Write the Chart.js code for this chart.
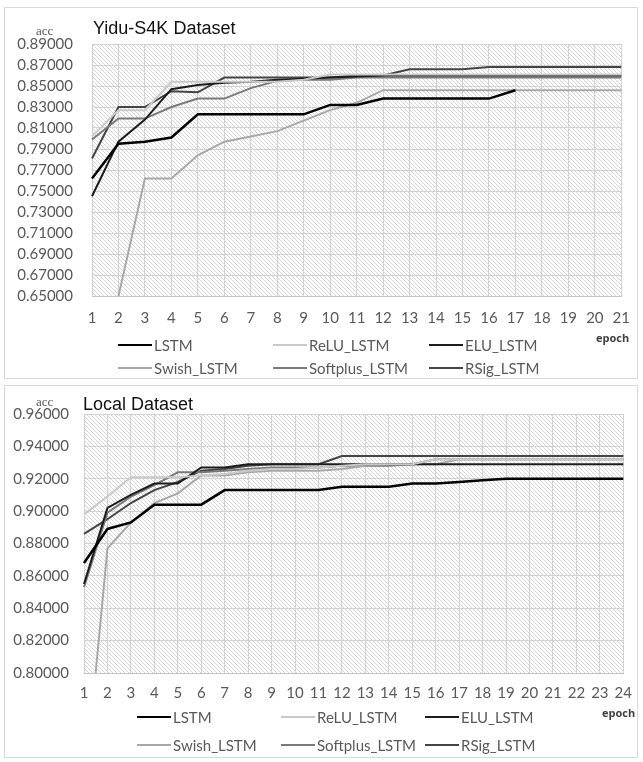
<!DOCTYPE html>
<html>
<head>
<meta charset="utf-8">
<script src="https://cdn.jsdelivr.net/npm/chart.js@4/dist/chart.umd.min.js"></script>
<style>
    body { margin: 0; background: #fff; width: 643px; height: 762px; position: relative; overflow: hidden; }
    .panel { position: absolute; left: 4px; width: 634px; border: 1px solid #d9d9d9; box-sizing: border-box; }
    canvas { position: absolute; left: 0; }
    .txt { position: absolute; white-space: nowrap; line-height: 1; }
    .title { font: 18px "Liberation Sans", Arial, sans-serif; color: #111; }
    .acc { font: 13px "Liberation Serif", serif; color: #595959; }
    .epoch { font: bold 11px "Open Sans", sans-serif; color: #404040; }
    .leg { position: absolute; display: flex; align-items: center; font: 15px Lato, "Open Sans", sans-serif; color: #595959; white-space: nowrap; }
    .leg span.ln { display: inline-block; width: 34px; margin-right: 2px; }
</style>
</head>
<body>
<div class="panel" style="top:7px;height:372px"></div>
<div class="panel" style="top:385px;height:373px"></div>
<canvas id="topChart" width="643" height="380" style="top:0"></canvas>
<canvas id="botChart" width="643" height="382" style="top:380px"></canvas>
<div id="labels"></div>
<script>
// Yidu-S4K dataset, epochs 1..21
const topEpochs = ['1', '2', '3', '4', '5', '6', '7', '8', '9', '10', '11', '12', '13', '14', '15', '16', '17', '18', '19', '20', '21'];
const topLSTM = [0.762, 0.795, 0.797, 0.801, 0.823, 0.823, 0.823, 0.823, 0.823, 0.832, 0.832, 0.838, 0.838, 0.838, 0.838, 0.838, 0.846];
const topReLU = [0.802, 0.827, 0.827, 0.854, 0.854, 0.854, 0.854, 0.854, 0.856, 0.861, 0.861, 0.861, 0.861, 0.861, 0.861, 0.861, 0.861, 0.861, 0.861, 0.861, 0.861];
const topELU = [0.745, 0.797, 0.818, 0.847, 0.851, 0.853, 0.854, 0.856, 0.857, 0.858, 0.859, 0.860, 0.860, 0.860, 0.860, 0.860, 0.860, 0.860, 0.860, 0.860, 0.860];
const topSwish = [0.600, 0.650, 0.762, 0.762, 0.784, 0.797, 0.802, 0.807, 0.817, 0.827, 0.834, 0.846, 0.846, 0.846, 0.846, 0.846, 0.846, 0.846, 0.846, 0.846, 0.846];
const topSoftplus = [0.799, 0.819, 0.819, 0.830, 0.838, 0.838, 0.848, 0.855, 0.856, 0.856, 0.858, 0.858, 0.858, 0.858, 0.858, 0.858, 0.858, 0.858, 0.858, 0.858, 0.858];
const topRSig = [0.781, 0.830, 0.830, 0.845, 0.844, 0.858, 0.858, 0.858, 0.858, 0.858, 0.860, 0.860, 0.866, 0.866, 0.866, 0.868, 0.868, 0.868, 0.868, 0.868, 0.868];
const topYMin = 0.65, topYMax = 0.89, topYStep = 0.02;

// Local dataset, epochs 1..24
const botEpochs = ['1', '2', '3', '4', '5', '6', '7', '8', '9', '10', '11', '12', '13', '14', '15', '16', '17', '18', '19', '20', '21', '22', '23', '24'];
const botLSTM = [0.868, 0.889, 0.893, 0.904, 0.904, 0.904, 0.913, 0.913, 0.913, 0.913, 0.913, 0.915, 0.915, 0.915, 0.917, 0.917, 0.918, 0.919, 0.920, 0.920, 0.920, 0.920, 0.920, 0.920];
const botReLU = [0.898, 0.909, 0.921, 0.921, 0.921, 0.922, 0.923, 0.925, 0.926, 0.926, 0.927, 0.928, 0.929, 0.929, 0.929, 0.932, 0.932, 0.932, 0.932, 0.932, 0.932, 0.932, 0.932, 0.932];
const botELU = [0.855, 0.902, 0.910, 0.917, 0.917, 0.927, 0.927, 0.929, 0.929, 0.929, 0.929, 0.929, 0.929, 0.929, 0.929, 0.929, 0.929, 0.929, 0.929, 0.929, 0.929, 0.929, 0.929, 0.929];
const botSwish = [0.724, 0.877, 0.893, 0.905, 0.911, 0.922, 0.922, 0.924, 0.925, 0.925, 0.925, 0.926, 0.928, 0.929, 0.929, 0.929, 0.932, 0.932, 0.932, 0.932, 0.932, 0.932, 0.932, 0.932];
const botSoftplus = [0.853, 0.899, 0.909, 0.916, 0.924, 0.924, 0.925, 0.926, 0.927, 0.927, 0.927, 0.928, 0.928, 0.928, 0.929, 0.932, 0.932, 0.932, 0.932, 0.932, 0.932, 0.932, 0.932, 0.932];
const botRSig = [0.886, 0.895, 0.905, 0.913, 0.918, 0.925, 0.926, 0.928, 0.929, 0.929, 0.929, 0.934, 0.934, 0.934, 0.934, 0.934, 0.934, 0.934, 0.934, 0.934, 0.934, 0.934, 0.934, 0.934];
const botYMin = 0.80, botYMax = 0.96, botYStep = 0.02;

const seriesNames = ['LSTM', 'ReLU_LSTM', 'ELU_LSTM', 'Swish_LSTM', 'Softplus_LSTM', 'RSig_LSTM'];

const lineStyle = {
    LSTM: { color: '#000000', width: 2.5 },
    ReLU_LSTM: { color: '#c9c9c9', width: 2 },
    ELU_LSTM: { color: '#1c1c1c', width: 2 },
    Swish_LSTM: { color: '#a8a8a8', width: 2 },
    Softplus_LSTM: { color: '#7a7a7a', width: 2 },
    RSig_LSTM: { color: '#444444', width: 2 },
};

Chart.defaults.font.family = 'Lato, "Open Sans", sans-serif';
Chart.defaults.color = '#595959';

// little diagonal hatch tile for the plot area
const hatchTile = document.createElement('canvas');
hatchTile.width = hatchTile.height = 4;
(() => {
    const g = hatchTile.getContext('2d');
    g.fillStyle = '#ffffff';
    g.fillRect(0, 0, 4, 4);
    g.fillStyle = '#d6d6d6';
    for (let i = 0; i < 4; i++) g.fillRect(i, i, 1, 1);
})();

const plotBackground = {
    id: 'plotBackground',
    beforeDraw(chart) {
        const { ctx, chartArea: a } = chart;
        ctx.save();
        ctx.fillStyle = ctx.createPattern(hatchTile, 'repeat');
        ctx.fillRect(a.left, a.top, a.right - a.left, a.bottom - a.top);
        ctx.restore();
    },
};

function makeChart(id, labels, values, yMin, yMax, yStep, box) {
    const canvas = document.getElementById(id);
    return new Chart(canvas, {
        type: 'line',
        data: {
            labels,
            datasets: seriesNames.map((name, i) => ({
                label: name,
                data: values[i],
                borderColor: lineStyle[name].color,
                borderWidth: lineStyle[name].width,
                pointRadius: 0,
                tension: 0,
                fill: false,
            })),
        },
        options: {
            responsive: false,
            animation: false,
            layout: { padding: { left: 0, top: box.top, right: canvas.width - box.right, bottom: 0 } },
            plugins: { legend: { display: false }, tooltip: { enabled: false }, title: { display: false } },
            scales: {
                x: {
                    offset: false,
                    grid: { color: '#d2d2d2', lineWidth: 1, drawTicks: false },
                    border: { color: '#c4c4c4' },
                    ticks: { padding: box.xPad, font: { size: 15 }, maxRotation: 0, autoSkip: false },
                    afterFit: (s) => { s.height = canvas.height - box.bottom; },
                },
                y: {
                    min: yMin,
                    max: yMax,
                    grid: { color: '#d2d2d2', lineWidth: 1, drawTicks: false },
                    border: { display: false },
                    ticks: { stepSize: yStep, padding: box.yPad, font: { size: 15 }, callback: (v) => Number(v).toFixed(5) },
                    afterFit: (s) => { s.width = box.left; },
                },
            },
        },
        plugins: [plotBackground],
    });
}

makeChart('topChart', topEpochs, [topLSTM, topReLU, topELU, topSwish, topSoftplus, topRSig],
    topYMin, topYMax, topYStep, { left: 92, right: 624, top: 44, bottom: 296, xPad: 13, yPad: 19 });
makeChart('botChart', botEpochs, [botLSTM, botReLU, botELU, botSwish, botSoftplus, botRSig],
    botYMin, botYMax, botYStep, { left: 84, right: 627, top: 34, bottom: 293, xPad: 11, yPad: 15 });

// titles, axis captions and legends as html text
const holder = document.getElementById('labels');
function addText(cls, text, x, y) {
    const d = document.createElement('div');
    d.className = 'txt ' + cls;
    d.textContent = text;
    d.style.left = x + 'px';
    d.style.top = y + 'px';
    holder.appendChild(d);
}
addText('title', 'Yidu-S4K Dataset', 93, 18);
addText('acc', 'acc', 36, 23);
addText('epoch', 'epoch', 596, 330);
addText('title', 'Local Dataset', 83, 394);
addText('acc', 'acc', 36, 394);
addText('epoch', 'epoch', 602, 705);

function addLegend(cols, rows) {
    seriesNames.forEach((name, i) => {
        const d = document.createElement('div');
        d.className = 'leg';
        d.style.left = cols[i % 3] + 'px';
        d.style.top = (rows[Math.floor(i / 3)] - 9) + 'px';
        d.style.height = '18px';
        const ln = document.createElement('span');
        ln.className = 'ln';
        ln.style.height = lineStyle[name].width + 'px';
        ln.style.background = lineStyle[name].color;
        d.appendChild(ln);
        d.appendChild(document.createTextNode(name));
        holder.appendChild(d);
    });
}
addLegend([118, 273, 429], [345, 368]);
addLegend([137, 281, 425], [717, 745]);
</script>
</body>
</html>
